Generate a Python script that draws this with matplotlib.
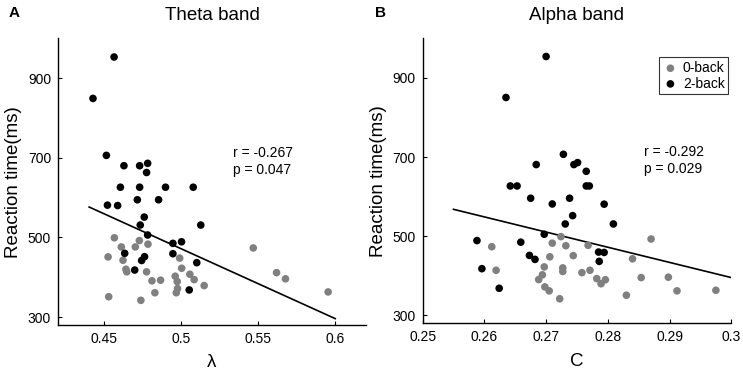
import matplotlib
matplotlib.use("Agg")
import matplotlib.pyplot as plt

plt.rcParams['font.family'] = ['Liberation Sans', 'DejaVu Sans']

# ---- Data: panel A (Theta band, lambda) ----
theta_0back_x = [0.4566, 0.4611, 0.4728, 0.4784, 0.4702, 0.4525, 0.4622, 0.4990, 0.4641, 0.4646,
                 0.5003, 0.4775, 0.4961, 0.5056, 0.5084, 0.4810, 0.4866, 0.4974, 0.5149, 0.4976,
                 0.4968, 0.4829, 0.4529, 0.4738, 0.5468, 0.5619, 0.5677, 0.5954]
theta_0back_y = [499, 476, 492, 483, 476, 451, 442.5, 448, 420, 413.5,
                 422.5, 413.5, 402.5, 407.5, 394, 391, 392.5, 389, 379, 371.5,
                 361, 361, 351, 342, 473.5, 411.5, 396, 363]
theta_2back_x = [0.4564, 0.4427, 0.4514, 0.4628, 0.4730, 0.4782, 0.4775, 0.4605, 0.4730, 0.4898,
                 0.5078, 0.4715, 0.4853, 0.4521, 0.4587, 0.4760, 0.4734, 0.5127, 0.4782, 0.5002,
                 0.4946, 0.4633, 0.4946, 0.4762, 0.4743, 0.5101, 0.4698, 0.5052]
theta_2back_y = [953, 849, 706, 680, 680, 686, 663, 626, 626, 626,
                 626, 594.5, 594.5, 581, 580, 551, 531, 531, 506, 489,
                 485, 460, 459, 451.5, 442, 436.5, 418, 368]
theta_fit_x = [0.4402, 0.6000]
theta_fit_y = [576.3, 296.0]

# ---- Data: panel B (Alpha band, C) ----
alpha_0back_x = [0.2724, 0.2710, 0.2732, 0.2768, 0.2612, 0.2870, 0.2706, 0.2744, 0.2840, 0.2697,
                 0.2727, 0.2727, 0.2619, 0.2771, 0.2758, 0.2694, 0.2688, 0.2782, 0.2796, 0.2789,
                 0.2854, 0.2898, 0.2698, 0.2705, 0.2912, 0.2975, 0.2830, 0.2722]
alpha_0back_y = [499, 482.5, 476, 477, 473.5, 493, 448, 451, 443, 422.5,
                 420, 411, 414, 414, 408, 402.5, 390.5, 393, 390, 380,
                 395.5, 396.5, 372, 362, 362, 363.5, 351, 342]
alpha_2back_x = [0.2700, 0.2635, 0.2728, 0.2684, 0.2745, 0.2751, 0.2765, 0.2642, 0.2653, 0.2765,
                 0.2770, 0.2675, 0.2710, 0.2738, 0.2794, 0.2743, 0.2731, 0.2809, 0.2697, 0.2588,
                 0.2659, 0.2673, 0.2682, 0.2785, 0.2794, 0.2786, 0.2596, 0.2624]
alpha_2back_y = [954, 850.5, 707, 681, 681, 686, 664, 627, 627, 627,
                 627, 596, 581.5, 596, 581, 552, 531, 531, 505, 489,
                 485, 451.5, 441.5, 460, 459, 436.5, 418, 368.5]
alpha_fit_x = [0.2550, 0.3000]
alpha_fit_y = [568.0, 395.5]

theta_xticks = [0.45, 0.5, 0.55, 0.6]
theta_xticklabels = ['0.45', '0.5', '0.55', '0.6']
alpha_xticks = [0.25, 0.26, 0.27, 0.28, 0.29, 0.3]
alpha_xticklabels = ['0.25', '0.26', '0.27', '0.28', '0.29', '0.3']
yticks = [300, 500, 700, 900]

GRAY = '#808080'
MS = 30

fig = plt.figure(figsize=(7.43, 3.73), dpi=100)
axA = fig.add_axes([0.0781, 0.1287, 0.4145, 0.7686])
axB = fig.add_axes([0.5688, 0.1332, 0.4155, 0.7641])

def style(ax):
    for s in ['top', 'right']:
        ax.spines[s].set_visible(False)
    for s in ['left', 'bottom']:
        ax.spines[s].set_linewidth(1.0)
        ax.spines[s].set_color('black')
    ax.tick_params(direction='in', length=3, width=0.8, labelsize=10, colors='black', pad=5)
    ax.set_ylim(280, 1000)
    ax.set_yticks(yticks)
    ax.set_ylabel('Reaction time(ms)', fontsize=13.5, labelpad=4)

# Panel A
axA.scatter(theta_0back_x, theta_0back_y, s=MS, color=GRAY, edgecolors='none', zorder=3)
axA.scatter(theta_2back_x, theta_2back_y, s=MS, color='black', edgecolors='none', zorder=3)
axA.plot(theta_fit_x, theta_fit_y, color='black', lw=1.2, zorder=2)
axA.set_xlim(0.42, 0.62)
axA.set_xticks(theta_xticks)
axA.set_xticklabels(theta_xticklabels)
style(axA)
axA.set_xlabel('λ', fontsize=13.5, labelpad=6)
axA.set_title('Theta band', fontsize=13.5, pad=13)
axA.text(0.5339, 691, 'r = -0.267\np = 0.047', fontsize=10, va='center', ha='left', linespacing=1.25)

# Panel B
axB.scatter(alpha_0back_x, alpha_0back_y, s=MS, color=GRAY, edgecolors='none', zorder=3, label='0-back')
axB.scatter(alpha_2back_x, alpha_2back_y, s=MS, color='black', edgecolors='none', zorder=3, label='2-back')
axB.plot(alpha_fit_x, alpha_fit_y, color='black', lw=1.2, zorder=2)
axB.set_xlim(0.25, 0.3)
axB.set_xticks(alpha_xticks)
axB.set_xticklabels(alpha_xticklabels)
style(axB)
axB.set_xlabel('C', fontsize=13.5, labelpad=6)
axB.set_title('Alpha band', fontsize=13.5, pad=13)
axB.text(0.2858, 691, 'r = -0.292\np = 0.029', fontsize=10, va='center', ha='left', linespacing=1.25)
leg = axB.legend(loc='upper right', bbox_to_anchor=(0.99, 0.933), fontsize=10, frameon=True,
                 fancybox=False, edgecolor='black', handletextpad=0.3, borderpad=0.25,
                 labelspacing=0.12, handlelength=1.2, borderaxespad=0.0)
leg.get_frame().set_linewidth(0.8)

fig.text(9 / 743, 1 - 13 / 373, 'A', fontsize=11, fontweight='bold', va='center', ha='left')
fig.text(375 / 743, 1 - 13 / 373, 'B', fontsize=11, fontweight='bold', va='center', ha='left')

fig.savefig('out.png', dpi=100)
